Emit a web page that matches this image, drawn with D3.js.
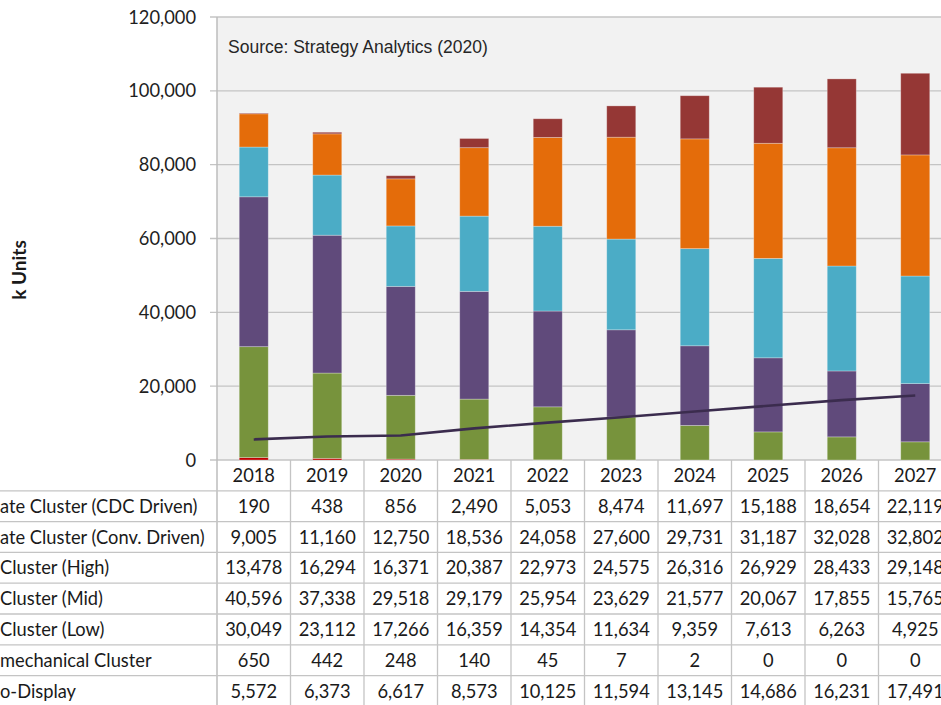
<!DOCTYPE html>
<html>
<head>
<meta charset="utf-8">
<script src="https://cdn.jsdelivr.net/npm/d3@7"></script>
<style>
  body { margin: 0; background: #fff; overflow: hidden; }
  svg { display: block; }
</style>
</head>
<body>
<div id="chart"></div>
<script>
const years = ["2018", "2019", "2020", "2021", "2022", "2023", "2024", "2025", "2026", "2027"];
const cdcDriven  = [190, 438, 856, 2490, 5053, 8474, 11697, 15188, 18654, 22119];
const convDriven = [9005, 11160, 12750, 18536, 24058, 27600, 29731, 31187, 32028, 32802];
const highCluster = [13478, 16294, 16371, 20387, 22973, 24575, 26316, 26929, 28433, 29148];
const midCluster  = [40596, 37338, 29518, 29179, 25954, 23629, 21577, 20067, 17855, 15765];
const lowCluster  = [30049, 23112, 17266, 16359, 14354, 11634, 9359, 7613, 6263, 4925];
const mechCluster = [650, 442, 248, 140, 45, 7, 2, 0, 0, 0];
const microDisplay = [5572, 6373, 6617, 8573, 10125, 11594, 13145, 14686, 16231, 17491];

// row labels, only the part that shows inside the cropped picture
const rowLabels = ["ate Cluster (CDC Driven)", "ate Cluster (Conv. Driven)", "Cluster (High)",
                   "Cluster (Mid)", "Cluster (Low)", "mechanical Cluster", "o-Display"];
const yTicks = [0, 20000, 40000, 60000, 80000, 100000, 120000];

const width = 941, height = 705;
const plotLeft = 217, plotTop = 17, plotBottom = 460;
const colW = 73.5;

const svg = d3.select("#chart").append("svg")
    .attr("width", width)
    .attr("height", height);

const x = d3.scaleBand()
    .domain(years)
    .range([plotLeft, plotLeft + colW * years.length])
    .paddingInner(0.605)
    .paddingOuter(0.3025);

const y = d3.scaleLinear()
    .domain([0, 120000])
    .range([plotBottom, plotTop]);

// plot background
svg.append("rect")
    .attr("x", plotLeft)
    .attr("y", plotTop)
    .attr("width", width - plotLeft)
    .attr("height", plotBottom - plotTop)
    .attr("fill", "#f2f2f2");

// gridlines
svg.append("g")
    .selectAll("line")
    .data(yTicks)
    .join("line")
    .attr("x1", plotLeft - 7)
    .attr("x2", width)
    .attr("y1", d => y(d))
    .attr("y2", d => y(d))
    .attr("stroke", "#c4c4c4")
    .attr("stroke-width", 1.3);

// y axis labels
svg.append("g")
    .selectAll("text")
    .data(yTicks)
    .join("text")
    .attr("x", 196)
    .attr("y", d => y(d))
    .attr("dy", "0.36em")
    .attr("text-anchor", "end")
    .attr("font-family", "Lato, sans-serif")
    .attr("font-size", 18.3)
    .attr("fill", "#1f1f1f")
    .text(d => d3.format(",")(d));

// axis title
svg.append("text")
    .attr("transform", "translate(26,270) rotate(-90)")
    .attr("text-anchor", "middle")
    .attr("font-family", "Lato, sans-serif")
    .attr("font-weight", "bold")
    .attr("font-size", 19)
    .attr("fill", "#1a1a1a")
    .text("k Units");

// stacked bars
const series = [
    {name: "mech", values: mechCluster, color: "#c00000"},
    {name: "low", values: lowCluster, color: "#77933c"},
    {name: "mid", values: midCluster, color: "#604a7b"},
    {name: "high", values: highCluster, color: "#4bacc6"},
    {name: "conv", values: convDriven, color: "#e46c0a"},
    {name: "cdc", values: cdcDriven, color: "#953735"}
];

const rows = years.map((yr, i) => {
    const r = {year: yr};
    series.forEach(s => r[s.name] = s.values[i]);
    return r;
});

const stack = d3.stack().keys(series.map(s => s.name));
const stacked = stack(rows);

svg.append("g")
    .selectAll("g")
    .data(stacked)
    .join("g")
    .attr("fill", (d, i) => series[i].color)
    .selectAll("rect")
    .data(d => d)
    .join("rect")
    .attr("x", d => x(d.data.year))
    .attr("y", d => y(d[1]))
    .attr("width", x.bandwidth())
    .attr("height", d => y(d[0]) - y(d[1]))
    .attr("stroke", "rgba(255,255,255,0.35)")
    .attr("stroke-width", 0.8);

// micro-display line
const line = d3.line()
    .x((d, i) => x(years[i]) + x.bandwidth() / 2)
    .y(d => y(d));

svg.append("path")
    .datum(microDisplay)
    .attr("d", line)
    .attr("fill", "none")
    .attr("stroke", "#3b2c4e")
    .attr("stroke-width", 2.6);

// left border of plot
svg.append("line")
    .attr("x1", plotLeft).attr("x2", plotLeft)
    .attr("y1", plotTop).attr("y2", height)
    .attr("stroke", "#bdbdbd")
    .attr("stroke-width", 1.5);

svg.append("text")
    .attr("x", 228)
    .attr("y", 53)
    .attr("font-family", "'Liberation Sans', Arial, sans-serif")
    .attr("font-size", 17.5)
    .attr("fill", "#262626")
    .text("Source: Strategy Analytics (2020)");

// data table below
const rowH = 30.8;
const tableTop = plotBottom;
const table = svg.append("g");

// vertical column lines
table.selectAll("line.col")
    .data(years)
    .join("line")
    .attr("class", "col")
    .attr("x1", d => x(d) - x.step() * x.paddingOuter() + colW)
    .attr("x2", d => x(d) - x.step() * x.paddingOuter() + colW)
    .attr("y1", tableTop)
    .attr("y2", height)
    .attr("stroke", "#c4c4c4")
    .attr("stroke-width", 1.3);

// horizontal row lines
table.selectAll("line.row")
    .data(rowLabels)
    .join("line")
    .attr("class", "row")
    .attr("x1", 0)
    .attr("x2", width)
    .attr("y1", (d, i) => tableTop + rowH * (i + 1))
    .attr("y2", (d, i) => tableTop + rowH * (i + 1))
    .attr("stroke", "#c4c4c4")
    .attr("stroke-width", 1.3);

const textStyle = sel => sel
    .attr("font-family", "Lato, sans-serif")
    .attr("font-size", 18.3)
    .attr("fill", "#1a1a1a");

// year header
table.selectAll("text.year")
    .data(years)
    .join("text")
    .attr("class", "year")
    .attr("x", d => x(d) + x.bandwidth() / 2)
    .attr("y", tableTop + rowH / 2)
    .attr("dy", "0.36em")
    .attr("text-anchor", "middle")
    .call(textStyle)
    .text(d => d);

const tableRows = [cdcDriven, convDriven, highCluster, midCluster, lowCluster, mechCluster, microDisplay];

tableRows.forEach((vals, r) => {
    const cy = tableTop + rowH * (r + 1) + rowH / 2;
    table.append("text")
        .attr("x", 0)
        .attr("y", cy)
        .attr("dy", "0.36em")
        .call(textStyle)
        .text(rowLabels[r]);
    table.append("g")
        .selectAll("text")
        .data(vals)
        .join("text")
        .attr("x", (d, i) => x(years[i]) + x.bandwidth() / 2)
        .attr("y", cy)
        .attr("dy", "0.36em")
        .attr("text-anchor", "middle")
        .call(textStyle)
        .text(d => d3.format(",")(d));
});
</script>
</body>
</html>
